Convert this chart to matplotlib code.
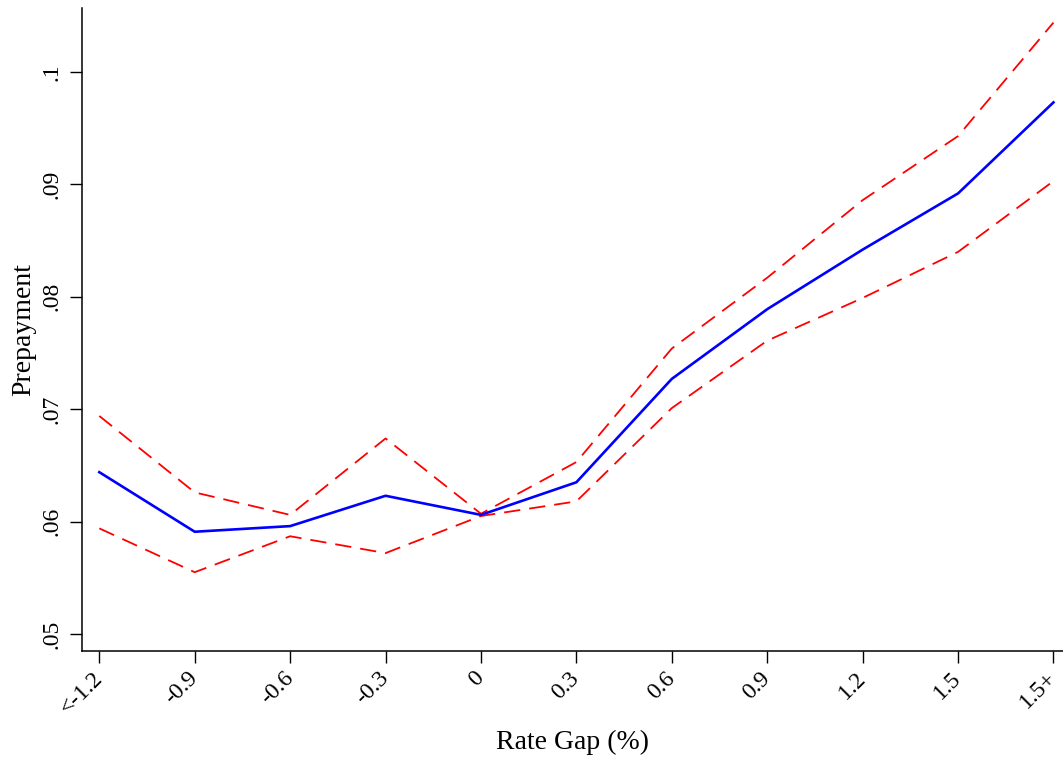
import matplotlib
matplotlib.use("Agg")
import matplotlib.pyplot as plt
import numpy as np

# Data
categories = ["<-1.2", "-0.9", "-0.6", "-0.3", "0", "0.3", "0.6", "0.9", "1.2", "1.5", "1.5+"]
estimate = [0.0644, 0.0591, 0.0596, 0.0623, 0.0606, 0.0635, 0.0727, 0.0789, 0.0842, 0.0892, 0.0973]
upper_ci = [0.0694, 0.0626, 0.0606, 0.0674, 0.0607, 0.0653, 0.0754, 0.0817, 0.0886, 0.0943, 0.1044]
lower_ci = [0.0594, 0.0555, 0.0587, 0.0572, 0.0605, 0.0618, 0.0701, 0.0761, 0.0799, 0.0840, 0.0903]
yticks = [0.05, 0.06, 0.07, 0.08, 0.09, 0.10]
ytick_labels = [".05", ".06", ".07", ".08", ".09", ".1"]

plt.rcParams['font.family'] = ['Liberation Serif', 'DejaVu Serif']

fig = plt.figure(figsize=(10.63, 7.59), dpi=100)
ax = fig.add_axes([0.0769, 0.1423, 0.9231, 0.8472])

x = np.arange(len(categories))
ax.plot(x, upper_ci, color=(1, 0, 0), lw=1.3, dashes=(9, 5))
ax.plot(x, lower_ci, color=(1, 0, 0), lw=1.3, dashes=(9, 5))
ax.plot(x, estimate, color=(0, 0, 1), lw=1.9)

ax.set_xlim(-0.184, 10.1)
ax.set_ylim(0.04849, 0.1057)

ax.set_yticks(yticks)
ax.set_yticklabels(ytick_labels, rotation=90, va='center', fontsize=17)
ax.set_xticks(x)
ax.set_xticklabels(categories, rotation=45, ha='right', va='center',
                   rotation_mode='anchor', fontsize=17)

ax.tick_params(axis='both', direction='out', length=8.5, width=1.0, pad=5)
ax.tick_params(axis='x', pad=9)

for s in ['top', 'right']:
    ax.spines[s].set_visible(False)
for s in ['left', 'bottom']:
    ax.spines[s].set_linewidth(1.1)

ax.set_xlabel("Rate Gap (%)", fontsize=20, labelpad=8)
ax.set_ylabel("Prepayment", fontsize=20, labelpad=4)

fig.savefig("out.png", dpi=100)
